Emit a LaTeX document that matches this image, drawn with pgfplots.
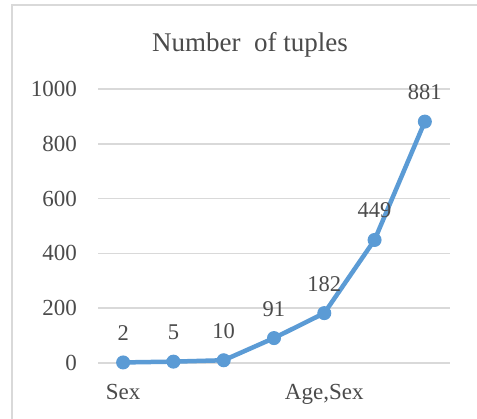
\documentclass[border=0pt]{standalone}
\usepackage{pgfplots}
\pgfplotsset{compat=1.18}
\usepackage{fontspec}
\setmainfont{Liberation Serif}
\definecolor{txt}{RGB}{75,75,75}
\definecolor{grd}{RGB}{217,217,217}
\definecolor{ln}{RGB}{91,155,213}
\begin{document}
\begin{tikzpicture}
\useasboundingbox (0bp,0bp) rectangle (477bp,419bp);
\fill[white] (0bp,0bp) rectangle (477bp,419bp);
\draw[grd, line width=1.5bp] (12bp,0bp) -- (12bp,414bp) -- (477bp,414bp);
\node[anchor=base, text=txt, inner sep=0pt, font=\fontsize{27bp}{31bp}\selectfont] at (250bp,367bp) {Number\ \ of tuples};
\begin{axis}[
  at={(98bp,56bp)}, anchor=south west, scale only axis,
  width=352bp, height=274bp,
  xmin=-0.5, xmax=6.5, ymin=0, ymax=1000,
  ytick={0,200,...,1000}, xtick={0,4}, xticklabels={Sex,{Age,Sex}},
  ymajorgrids, grid style={grd, line width=1.5bp},
  axis line style={draw=none}, major tick length=0pt,
  tick label style={font=\fontsize{23bp}{27bp}\selectfont, text=txt},
  /pgf/number format/assume math mode=true,
  /pgf/number format/1000 sep={},
  yticklabel style={inner sep=0pt, xshift=-21bp},
  xticklabel style={anchor=base, inner sep=0pt, yshift=-37bp},
  clip=false]
\addplot[ln, line width=4.5bp, mark=*, mark size=6.5bp,
  mark options={fill=ln, draw=ln, line width=1bp},
  nodes near coords,
  every node near coord/.append style={anchor=base, yshift=22bp, inner sep=0pt,
    font=\fontsize{22.5bp}{26bp}\selectfont, text=txt}]
  coordinates {(0,2)(1,5)(2,10)(3,91)(4,182)(5,449)(6,881)};
\end{axis}
\end{tikzpicture}
\end{document}
